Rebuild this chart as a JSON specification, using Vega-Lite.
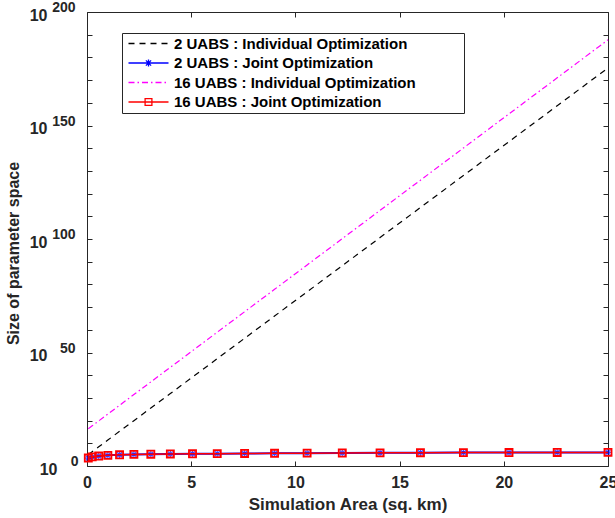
{
  "$schema": "https://vega.github.io/schema/vega-lite/v6.json",
  "width": 521,
  "height": 454,
  "autosize": "none",
  "padding": {"left": 87, "top": 12, "right": 7, "bottom": 52},
  "background": "white",
  "datasets": {
    "ind2": [
      {"area": 0.0625, "value": 1.07e5}, {"area": 0.25, "value": 2.04e6}, {"area": 0.5625, "value": 2.75e8},
      {"area": 1, "value": 2.69e11}, {"area": 1.5625, "value": 1.86e15}, {"area": 2.25, "value": 9.33e19},
      {"area": 3.0625, "value": 3.31e25}, {"area": 4, "value": 8.32e31}, {"area": 5.0625, "value": 1.51e39},
      {"area": 6.25, "value": 1.95e47}, {"area": 7.5625, "value": 1.78e56}, {"area": 9, "value": 1.17e66},
      {"area": 10.5625, "value": 5.5e76}, {"area": 12.25, "value": 1.86e88}, {"area": 14.0625, "value": 4.47e100},
      {"area": 16, "value": 7.59e113}, {"area": 18.0625, "value": 9.33e127}, {"area": 20.25, "value": 8.13e142},
      {"area": 22.5625, "value": 5.01e158}, {"area": 25, "value": 2.24e175}
    ],
    "joint2": [
      {"area": 0.0625, "value": 3.16e3}, {"area": 0.25, "value": 1e4}, {"area": 0.5625, "value": 2.51e4},
      {"area": 1, "value": 5.01e4}, {"area": 1.5625, "value": 8.91e4}, {"area": 2.25, "value": 1.26e5},
      {"area": 3.0625, "value": 1.58e5}, {"area": 4, "value": 2.0e5}, {"area": 5.0625, "value": 2.4e5},
      {"area": 6.25, "value": 2.82e5}, {"area": 7.5625, "value": 3.31e5}, {"area": 9, "value": 3.98e5},
      {"area": 10.5625, "value": 4.68e5}, {"area": 12.25, "value": 5.37e5}, {"area": 14.0625, "value": 6.31e5},
      {"area": 16, "value": 7.08e5}, {"area": 18.0625, "value": 7.94e5}, {"area": 20.25, "value": 8.51e5},
      {"area": 22.5625, "value": 9.12e5}, {"area": 25, "value": 1e6}
    ],
    "ind16": [
      {"area": 0.0625, "value": 2.69e16}, {"area": 0.25, "value": 5.25e17}, {"area": 0.5625, "value": 7.24e19},
      {"area": 1, "value": 7.41e22}, {"area": 1.5625, "value": 5.37e26}, {"area": 2.25, "value": 2.88e31},
      {"area": 3.0625, "value": 1.1e37}, {"area": 4, "value": 3.02e43}, {"area": 5.0625, "value": 6.03e50},
      {"area": 6.25, "value": 8.71e58}, {"area": 7.5625, "value": 8.91e67}, {"area": 9, "value": 6.76e77},
      {"area": 10.5625, "value": 3.63e88}, {"area": 12.25, "value": 1.45e100}, {"area": 14.0625, "value": 4.07e112},
      {"area": 16, "value": 8.32e125}, {"area": 18.0625, "value": 1.23e140}, {"area": 20.25, "value": 1.32e155},
      {"area": 22.5625, "value": 1.0e171}, {"area": 25, "value": 5.62e187}
    ],
    "joint16": [
      {"area": 0.0625, "value": 3.16e3}, {"area": 0.25, "value": 1e4}, {"area": 0.5625, "value": 2.51e4},
      {"area": 1, "value": 5.01e4}, {"area": 1.5625, "value": 8.91e4}, {"area": 2.25, "value": 1.26e5},
      {"area": 3.0625, "value": 1.58e5}, {"area": 4, "value": 2.0e5}, {"area": 5.0625, "value": 2.4e5},
      {"area": 6.25, "value": 2.82e5}, {"area": 7.5625, "value": 3.31e5}, {"area": 9, "value": 3.98e5},
      {"area": 10.5625, "value": 4.68e5}, {"area": 12.25, "value": 5.37e5}, {"area": 14.0625, "value": 6.31e5},
      {"area": 16, "value": 7.08e5}, {"area": 18.0625, "value": 7.94e5}, {"area": 20.25, "value": 8.51e5},
      {"area": 22.5625, "value": 9.12e5}, {"area": 25, "value": 1e6}
    ],
    "series": [
      {"series": "2 UABS : Individual Optimization"},
      {"series": "2 UABS : Joint Optimization"},
      {"series": "16 UABS : Individual Optimization"},
      {"series": "16 UABS : Joint Optimization"}
    ]
  },
  "resolve": {"axis": {"x": "independent", "y": "independent"}},
  "layer": [
    {
      "data": {"name": "ind2"},
      "mark": {"type": "line", "color": "black", "strokeWidth": 1.2, "strokeDash": [6, 5]},
      "encoding": {
        "x": {"field": "area", "type": "quantitative", "scale": {"domain": [0, 25], "nice": false},
          "axis": {"orient": "bottom", "values": [0, 5, 10, 15, 20, 25], "format": "d", "labelFontSize": 16,
            "tickSize": -5, "labelPadding": 13.5, "title": "Simulation Area (sq. km)", "titleFontSize": 17, "titlePadding": 6}},
        "y": {"field": "value", "type": "quantitative", "scale": {"type": "log", "domain": [1, 1e200], "nice": false},
          "axis": {"orient": "left",
            "values": [1, 1e10, 1e20, 1e30, 1e40, 1e50, 1e60, 1e70, 1e80, 1e90, 1e100, 1e110, 1e120, 1e130, 1e140, 1e150, 1e160, 1e170, 1e180, 1e190, 1e200],
            "labelExpr": "(round(log(datum.value)/LN10) % 50 == 0) ? '10' : ''",
            "labelFontSize": 16, "tickSize": -5, "labelOffset": 3,
            "labelPadding": {"condition": {"test": "datum.value == 1", "value": 35}, "value": 45},
            "title": "Size of parameter space", "titleFontSize": 16, "titleAngle": 270,
            "titleX": -73.5, "titleY": 241, "titleAlign": "center", "titleBaseline": "middle"}}
      }
    },
    {
      "data": {"name": "joint2"},
      "mark": {"type": "line", "color": "#0000ff", "strokeWidth": 2},
      "encoding": {
        "x": {"field": "area", "type": "quantitative", "scale": {"domain": [0, 25], "nice": false},
          "axis": {"orient": "top", "values": [0, 5, 10, 15, 20, 25], "labels": false, "tickSize": -5, "title": null}},
        "y": {"field": "value", "type": "quantitative", "scale": {"type": "log", "domain": [1, 1e200], "nice": false},
          "axis": {"orient": "left", "values": [1, 1e50, 1e100, 1e150, 1e200],
            "labelExpr": "'' + round(log(datum.value)/LN10)",
            "ticks": false, "labelFontSize": 14, "labelOffset": -4.5,
            "labelPadding": {"condition": {"test": "datum.value == 1", "value": 9}, "value": 12},
            "title": null}}
      }
    },
    {
      "data": {"name": "joint2"},
      "mark": {"type": "point", "filled": false, "color": "#0000ff", "size": 50, "strokeWidth": 1.2,
        "shape": "M-1,0H1M0,-1V1M-0.7,-0.7L0.7,0.7M-0.7,0.7L0.7,-0.7"},
      "encoding": {
        "x": {"field": "area", "type": "quantitative", "scale": {"domain": [0, 25], "nice": false}, "axis": null},
        "y": {"field": "value", "type": "quantitative", "scale": {"type": "log", "domain": [1, 1e200], "nice": false}, "axis": null}
      }
    },
    {
      "data": {"name": "ind16"},
      "mark": {"type": "line", "color": "#ff00ff", "strokeWidth": 1.2, "strokeDash": [6, 3, 1.5, 3]},
      "encoding": {
        "x": {"field": "area", "type": "quantitative", "scale": {"domain": [0, 25], "nice": false}, "axis": null},
        "y": {"field": "value", "type": "quantitative", "scale": {"type": "log", "domain": [1, 1e200], "nice": false},
          "axis": {"orient": "right",
            "values": [1, 1e10, 1e20, 1e30, 1e40, 1e50, 1e60, 1e70, 1e80, 1e90, 1e100, 1e110, 1e120, 1e130, 1e140, 1e150, 1e160, 1e170, 1e180, 1e190, 1e200],
            "labels": false, "tickSize": -5, "title": null}}
      }
    },
    {
      "data": {"name": "joint16"},
      "mark": {"type": "line", "color": "#ff0000", "strokeWidth": 1.5},
      "encoding": {
        "x": {"field": "area", "type": "quantitative", "scale": {"domain": [0, 25], "nice": false}, "axis": null},
        "y": {"field": "value", "type": "quantitative", "scale": {"type": "log", "domain": [1, 1e200], "nice": false}, "axis": null}
      }
    },
    {
      "data": {"name": "joint16"},
      "mark": {"type": "point", "filled": false, "color": "#ff0000", "size": 50, "strokeWidth": 1.8, "shape": "square", "opacity": 1},
      "encoding": {
        "x": {"field": "area", "type": "quantitative", "scale": {"domain": [0, 25], "nice": false}, "axis": null},
        "y": {"field": "value", "type": "quantitative", "scale": {"type": "log", "domain": [1, 1e200], "nice": false}, "axis": null}
      }
    },
    {
      "data": {"name": "series"},
      "transform": [{"filter": "false"}],
      "mark": {"type": "point", "filled": false, "opacity": 1},
      "encoding": {
        "color": {"field": "series", "type": "nominal",
          "scale": {"domain": ["2 UABS : Individual Optimization", "2 UABS : Joint Optimization", "16 UABS : Individual Optimization", "16 UABS : Joint Optimization"],
            "range": ["black", "#0000ff", "#ff00ff", "#ff0000"]},
          "legend": {"orient": "none", "legendX": 35, "legendY": 21, "title": "|"}},
        "shape": {"field": "series", "type": "nominal",
          "scale": {"domain": ["2 UABS : Individual Optimization", "2 UABS : Joint Optimization", "16 UABS : Individual Optimization", "16 UABS : Joint Optimization"],
            "range": ["M-1,0H9", "M-1,0H9M3.1,0H4.9M4,-0.9V0.9M3.35,-0.65L4.65,0.65M3.35,0.65L4.65,-0.65", "M-1,0H9", "M-1,0H9M3.15,-0.85H4.85V0.85H3.15Z"]},
          "legend": {"orient": "none", "legendX": 35, "legendY": 21, "title": "|"}},
        "strokeDash": {"field": "series", "type": "nominal",
          "scale": {"domain": ["2 UABS : Individual Optimization", "2 UABS : Joint Optimization", "16 UABS : Individual Optimization", "16 UABS : Joint Optimization"],
            "range": [[6, 5], [1, 0], [6, 3, 1.5, 3], [1, 0]]},
          "legend": {"orient": "none", "legendX": 35, "legendY": 21, "title": "|"}}
      }
    }
  ],
  "config": {
    "view": {"stroke": "#262626", "strokeWidth": 1},
    "axis": {"grid": false, "domain": false, "labelFont": "Liberation Sans", "labelFontWeight": "bold", "labelColor": "#262626",
      "tickColor": "#262626", "tickWidth": 1, "titleFont": "Liberation Sans", "titleFontWeight": "bold", "titleColor": "#262626",
      "labelOverlap": false, "labelFlush": false, "labelBound": false},
    "legend": {"strokeColor": "#262626", "fillColor": "white", "padding": 3, "symbolSize": 64, "symbolStrokeWidth": 1.3,
      "labelFont": "Liberation Sans", "labelFontWeight": "bold", "labelFontSize": 15, "labelColor": "black",
      "labelOffset": 34, "labelLimit": 0, "rowPadding": 3.5, "symbolFillColor": "transparent",
      "titleOrient": "right", "titleColor": "white", "titlePadding": 42, "titleFontSize": 10}
  }
}
